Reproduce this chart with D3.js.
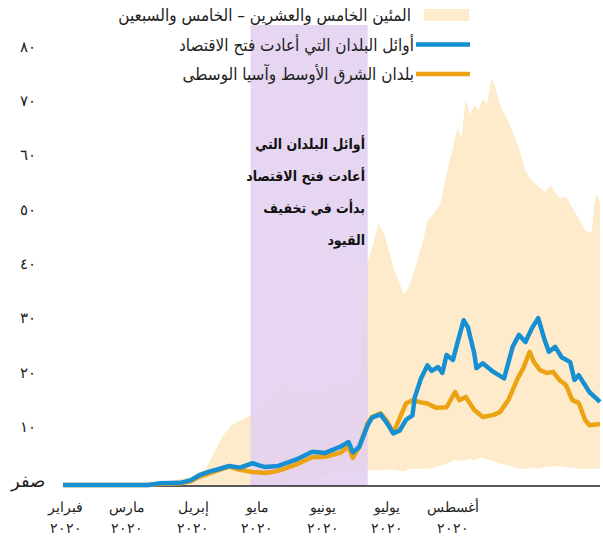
<!DOCTYPE html>
<html lang="ar">
<head>
<meta charset="utf-8">
<script src="https://cdn.jsdelivr.net/npm/d3@7"></script>
<style>
  body { margin: 0; background: #fff; }
  svg { display: block; font-family: "DejaVu Sans Condensed", "DejaVu Sans", sans-serif; }
</style>
</head>
<body>
<svg id="chart"></svg>
<script>
const width = 603;
const height = 536;

// الخط الأزرق: أوائل البلدان التي أعادت فتح الاقتصاد
const blueDates = ['2020-02-01', '2020-03-12', '2020-03-17', '2020-03-27', '2020-04-01', '2020-04-05',
  '2020-04-10', '2020-04-13', '2020-04-19', '2020-04-24', '2020-04-30', '2020-05-03', '2020-05-06',
  '2020-05-12', '2020-05-20', '2020-05-28', '2020-06-03', '2020-06-10', '2020-06-14', '2020-06-16',
  '2020-06-19', '2020-06-23', '2020-06-25', '2020-06-29', '2020-07-02', '2020-07-05', '2020-07-08',
  '2020-07-11', '2020-07-14', '2020-07-15', '2020-07-18', '2020-07-21', '2020-07-23', '2020-07-26',
  '2020-07-28', '2020-07-30', '2020-08-02', '2020-08-04', '2020-08-07', '2020-08-09', '2020-08-12',
  '2020-08-13', '2020-08-16', '2020-08-21', '2020-08-26', '2020-08-30', '2020-09-02', '2020-09-05',
  '2020-09-08', '2020-09-11', '2020-09-14', '2020-09-16', '2020-09-19', '2020-09-22', '2020-09-26',
  '2020-09-28', '2020-09-30', '2020-10-05', '2020-10-10'];
const blueValues = [0, 0, 0.3, 0.4, 0.9, 1.8,
  2.5, 2.8, 3.5, 3.2, 4.0, 3.6, 3.3,
  3.5, 4.6, 6.1, 5.9, 7.0, 7.9, 6.0,
  7.0, 11.0, 12.4, 13.0, 11.4, 9.5, 10.0,
  12.0, 12.8, 16.0, 19.6, 22.0, 21.0, 21.7,
  20.6, 23.9, 23.0, 26.0, 30.3, 29.0, 24.2,
  21.5, 22.4, 20.8, 19.6, 25.4, 27.6, 26.3,
  28.8, 30.7, 26.7, 24.5, 25.4, 23.5, 22.6,
  19.3, 20.2, 17.1, 15.3];

// الخط البرتقالي: بلدان الشرق الأوسط وآسيا الوسطى
const orangeDates = ['2020-02-01', '2020-03-12', '2020-03-17', '2020-03-27', '2020-04-01', '2020-04-05',
  '2020-04-10', '2020-04-13', '2020-04-19', '2020-04-24', '2020-04-30', '2020-05-06', '2020-05-12',
  '2020-05-20', '2020-05-28', '2020-06-03', '2020-06-10', '2020-06-14', '2020-06-16', '2020-06-19',
  '2020-06-23', '2020-06-25', '2020-06-29', '2020-07-02', '2020-07-05', '2020-07-08', '2020-07-11',
  '2020-07-14', '2020-07-18', '2020-07-21', '2020-07-25', '2020-07-30', '2020-08-03', '2020-08-05',
  '2020-08-08', '2020-08-12', '2020-08-16', '2020-08-21', '2020-08-24', '2020-08-28', '2020-09-01',
  '2020-09-04', '2020-09-07', '2020-09-09', '2020-09-12', '2020-09-15', '2020-09-18', '2020-09-21',
  '2020-09-24', '2020-09-27', '2020-09-30', '2020-10-03', '2020-10-05', '2020-10-10'];
const orangeValues = [0, 0, 0.2, 0.3, 0.7, 1.5,
  2.2, 2.6, 3.4, 2.8, 2.4, 2.2, 2.6,
  3.7, 5.1, 5.2, 5.9, 7.0, 5.0, 7.0,
  11.4, 12.5, 13.2, 11.8, 9.5, 12.3, 15.0,
  15.6, 15.2, 15.0, 14.2, 14.3, 17.1, 15.6,
  16.2, 13.8, 12.5, 12.9, 13.4, 15.6, 19.3,
  21.5, 24.5, 22.6, 21.1, 20.6, 20.8, 19.3,
  18.4, 15.6, 15.1, 12.0, 11.0, 11.2];

// النطاق: المئين الخامس والعشرين – الخامس والسبعين
const bandDates = ['2020-02-01', '2020-03-20', '2020-04-01', '2020-04-08', '2020-04-12', '2020-04-16',
  '2020-04-20', '2020-04-25', '2020-04-30', '2020-05-05', '2020-05-10', '2020-05-15', '2020-05-20',
  '2020-05-25', '2020-06-01', '2020-06-08', '2020-06-15', '2020-06-20', '2020-06-22', '2020-06-23',
  '2020-06-26', '2020-06-28', '2020-07-01', '2020-07-05', '2020-07-10', '2020-07-13', '2020-07-16',
  '2020-07-19', '2020-07-21', '2020-07-24', '2020-07-27', '2020-07-31', '2020-08-02', '2020-08-04',
  '2020-08-06', '2020-08-08', '2020-08-10', '2020-08-12', '2020-08-14', '2020-08-16', '2020-08-18',
  '2020-08-20', '2020-08-22', '2020-08-24', '2020-08-29', '2020-09-02', '2020-09-05', '2020-09-08',
  '2020-09-10', '2020-09-14', '2020-09-17', '2020-09-21', '2020-09-24', '2020-09-27', '2020-09-30',
  '2020-10-03', '2020-10-06', '2020-10-08', '2020-10-10'];
const bandUpper = [0, 0.5, 1.5, 3, 6, 9,
  11, 12, 13, 15, 17, 18, 17.5,
  17, 17, 18, 19, 22, 38, 41,
  45, 48, 46, 40, 35, 37, 41,
  45, 48.5, 50, 51.6, 59, 62, 65.6,
  64, 71, 68, 70, 69, 71, 70,
  74.7, 73, 70, 66, 62, 57.7, 56,
  55.3, 54, 55, 52.7, 53, 51, 49,
  46.7, 46.5, 53.5, 52];
const bandLower = [0, 0, 0, 0, 0, 0,
  0, 0, 0, 0, 0.5, 0.5, 1,
  1, 1.5, 2, 2.5, 2.5, 2.5, 2.7,
  2.7, 2.7, 2.8, 2.8, 2.5, 3, 3,
  3, 3, 3.2, 3.5, 4, 4.5, 4.6,
  4.4, 4.6, 4.8, 4.5, 4.9, 5, 4.7,
  4.6, 4.2, 4, 3.5, 3, 3, 3.2,
  3, 3.2, 3.4, 3.5, 3.2, 3.2, 3,
  3, 3, 3, 3];

const yTicks = [0, 10, 20, 30, 40, 50, 60, 70, 80];
const yTickLabels = ['صفر', '١٠', '٢٠', '٣٠', '٤٠', '٥٠', '٦٠', '٧٠', '٨٠'];
const monthTicks = ['2020-02-01', '2020-03-01', '2020-04-01', '2020-05-01', '2020-06-01', '2020-07-01', '2020-08-01'];
const monthLabels = ['فبراير', 'مارس', 'إبريل', 'مايو', 'يونيو', 'يوليو', 'أغسطس'];
const yearLabel = '٢٠٢٠';

const reopenStart = '2020-04-29';
const reopenEnd = '2020-06-23';
const noteLines = ['أوائل البلدان التي', 'أعادت فتح الاقتصاد', 'بدأت في تخفيف', 'القيود'];

const legendItems = [
  {label: 'المئين الخامس والعشرين – الخامس والسبعين', type: 'band'},
  {label: 'أوائل البلدان التي أعادت فتح الاقتصاد', type: 'blue'},
  {label: 'بلدان الشرق الأوسط وآسيا الوسطى', type: 'orange'}
];

const colors = {band: '#fdebcb', blue: '#1690d3', orange: '#eca313', purple: '#e2d0f0'};

const parse = d3.timeParse('%Y-%m-%d');
const zip = (dates, values) => dates.map((d, i) => ({date: parse(d), value: values[i]}));
const blue = zip(blueDates, blueValues);
const orange = zip(orangeDates, orangeValues);
const band = bandDates.map((d, i) => ({date: parse(d), lo: bandLower[i], hi: bandUpper[i]}));

const xScale = d3.scaleTime()
  .domain([parse('2020-02-01'), parse('2020-10-10')])
  .range([63, 600]);

const yScale = d3.scaleLinear()
  .domain([0, 80])
  .range([485, 50]);

const chart = d3.select('#chart')
  .attr('width', width)
  .attr('height', height);

chart.append('path')
  .datum(band)
  .attr('fill', colors.band)
  .attr('d', d3.area()
    .x(d => xScale(d.date))
    .y0(d => yScale(d.lo))
    .y1(d => yScale(d.hi)));

chart.append('rect')
  .attr('x', xScale(parse(reopenStart)))
  .attr('width', xScale(parse(reopenEnd)) - xScale(parse(reopenStart)))
  .attr('y', 25)
  .attr('height', yScale(0) + 1 - 25)
  .attr('fill', colors.purple)
  .attr('opacity', 0.88);

// خط الصفر
chart.append('line')
  .attr('x1', xScale.range()[0])
  .attr('x2', xScale.range()[1])
  .attr('y1', yScale(0) + 1)
  .attr('y2', yScale(0) + 1)
  .attr('stroke', '#222')
  .attr('stroke-width', 1.5);

const line = d3.line()
  .x(d => xScale(d.date))
  .y(d => yScale(d.value));

[[orange, colors.orange], [blue, colors.blue]].forEach(([data, color]) => {
  chart.append('path')
    .datum(data)
    .attr('fill', 'none')
    .attr('stroke', color)
    .attr('stroke-width', 4.5)
    .attr('stroke-linejoin', 'round')
    .attr('d', line);
});

// المحور الرأسي
const yAxis = chart.append('g')
  .call(d3.axisLeft(yScale).tickValues(yTicks).tickSize(0)
    .tickFormat((d, i) => yTickLabels[i]));
yAxis.select('.domain').remove();
yAxis.selectAll('text')
  .attr('x', 28)
  .attr('dy', 0)
  .attr('y', 1)
  .attr('text-anchor', 'middle')
  .attr('font-family', null)
  .attr('font-size', d => d === 0 ? 18 : 15)
  .attr('fill', '#222');

// المحور الأفقي
const xAxis = chart.append('g')
  .attr('transform', `translate(2, ${yScale(0)})`)
  .call(d3.axisBottom(xScale).tickValues(monthTicks.map(parse)).tickSize(0).tickFormat(() => ''));
xAxis.select('.domain').remove();
xAxis.selectAll('.tick text').remove();
xAxis.selectAll('.tick').each(function(d, i) {
  const t = d3.select(this).append('text')
    .attr('text-anchor', 'middle')
    .attr('font-size', 14)
    .attr('fill', '#222');
  t.append('tspan').attr('x', 0).attr('y', 27).text(monthLabels[i]);
  t.append('tspan').attr('x', 0).attr('y', 48).attr('letter-spacing', 2).text(yearLabel);
});

// التعليق
chart.append('g')
  .selectAll('text')
  .data(noteLines)
  .join('text')
  .attr('x', 365)
  .attr('y', (d, i) => 149 + i * 32)
  .attr('text-anchor', 'end')
  .attr('font-weight', 'bold')
  .attr('font-size', 14)
  .attr('fill', '#111')
  .text(d => d);

// وسيلة الإيضاح
const legend = chart.append('g')
  .selectAll('g')
  .data(legendItems)
  .join('g')
  .attr('transform', (d, i) => `translate(0, ${15 + i * 29.5})`);

legend.filter(d => d.type === 'band')
  .append('rect')
  .attr('x', 424)
  .attr('y', -6)
  .attr('width', 45)
  .attr('height', 12)
  .attr('fill', colors.band);

legend.filter(d => d.type !== 'band')
  .append('line')
  .attr('x1', 416)
  .attr('x2', 470)
  .attr('stroke', d => colors[d.type])
  .attr('stroke-width', 4.5);

legend.append('text')
  .attr('x', d => d.type === 'band' ? 411 : 414)
  .attr('y', 6)
  .attr('text-anchor', 'end')
  .attr('font-size', 17)
  .attr('fill', '#222')
  .text(d => d.label);
</script>
</body>
</html>
